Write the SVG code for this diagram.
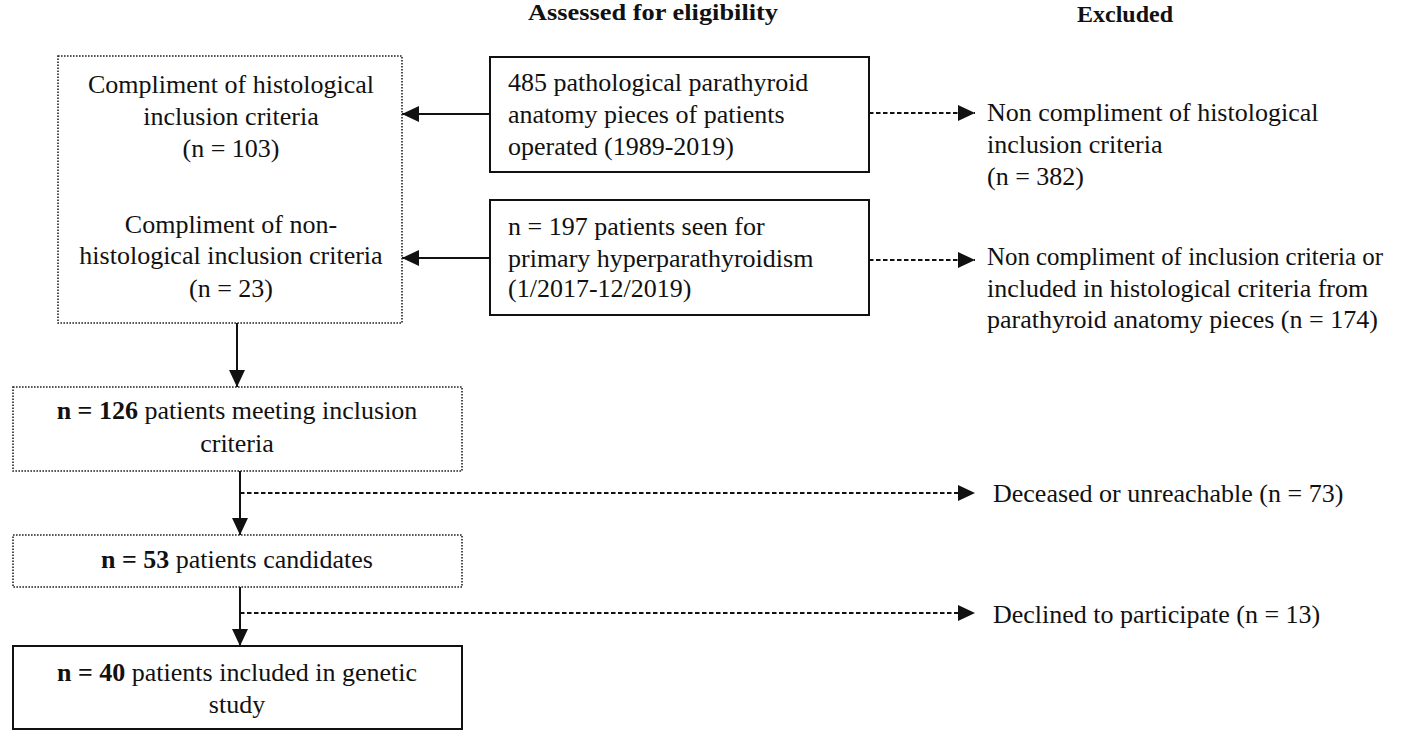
<svg xmlns="http://www.w3.org/2000/svg" width="1417" height="733" viewBox="0 0 1417 733">
<style>
text{font-family:"Liberation Serif","Times New Roman",serif;font-size:26px;fill:#111}
.hd{font-weight:bold;font-size:24px}
.b{font-weight:bold}
.mid{text-anchor:middle}
.solid{fill:#fff;stroke:#111;stroke-width:2}
.dot{fill:#fff;stroke:#222;stroke-width:1.6;stroke-dasharray:1.6 1.4}
.con{fill:none;stroke:#111;stroke-width:2}
.dash{fill:none;stroke:#111;stroke-width:1.8;stroke-dasharray:4.5 2.5}
</style>
<defs>
<marker id="ah" markerUnits="userSpaceOnUse" markerWidth="18" markerHeight="16" refX="17" refY="8" orient="auto">
<path d="M0,0 L17,8 L0,16 z" fill="#111"/>
</marker>
</defs>
<rect width="1417" height="733" fill="#fff"/>
<g id="headers">
<text class="hd mid" x="653" y="20" textLength="250" lengthAdjust="spacingAndGlyphs">Assessed for eligibility</text>
<text class="hd mid" x="1125" y="22">Excluded</text>
</g>
<g id="connectors">
<line class="con" x1="490" y1="114" x2="402" y2="114" marker-end="url(#ah)"/>
<line class="con" x1="490" y1="258" x2="402" y2="258" marker-end="url(#ah)"/>
<line class="dash" x1="869" y1="113" x2="975" y2="113" marker-end="url(#ah)"/>
<line class="dash" x1="869" y1="260" x2="975" y2="260" marker-end="url(#ah)"/>
<line class="con" x1="237" y1="323" x2="237" y2="387" marker-end="url(#ah)"/>
<line class="con" x1="240" y1="471" x2="240" y2="535" marker-end="url(#ah)"/>
<line class="dash" x1="240" y1="493" x2="975" y2="493" marker-end="url(#ah)"/>
<line class="con" x1="240" y1="587" x2="240" y2="646" marker-end="url(#ah)"/>
<line class="dash" x1="240" y1="613" x2="975" y2="613" marker-end="url(#ah)"/>
</g>
<g id="inclusion">
<rect class="dot" x="58" y="56" width="344" height="267"/>
<text class="mid" x="231" y="93">Compliment of histological</text>
<text class="mid" x="231" y="125">inclusion criteria</text>
<text class="mid" x="231" y="157">(n = 103)</text>
<text class="mid" x="231" y="233">Compliment of non-</text>
<text class="mid" x="231" y="264">histological inclusion criteria</text>
<text class="mid" x="231" y="297">(n = 23)</text>
</g>
<g id="pieces">
<rect class="solid" x="490" y="57" width="379" height="115"/>
<text x="508" y="91">485 pathological parathyroid</text>
<text x="508" y="123">anatomy pieces of patients</text>
<text x="508" y="155">operated (1989-2019)</text>
</g>
<g id="seen">
<rect class="solid" x="490" y="200" width="379" height="115"/>
<text x="508" y="235">n = 197 patients seen for</text>
<text x="508" y="267">primary hyperparathyroidism</text>
<text x="508" y="297">(1/2017-12/2019)</text>
</g>
<g id="excl1">
<text x="987" y="121">Non compliment of histological</text>
<text x="987" y="153">inclusion criteria</text>
<text x="987" y="185">(n = 382)</text>
</g>
<g id="excl2">
<text x="987" y="265" textLength="396" lengthAdjust="spacingAndGlyphs">Non compliment of inclusion criteria or</text>
<text x="987" y="297">included in histological criteria from</text>
<text x="987" y="328">parathyroid anatomy pieces (n = 174)</text>
</g>
<g id="meeting">
<rect class="dot" x="13" y="387" width="449" height="84"/>
<text class="mid" x="237" y="419"><tspan class="b">n = 126</tspan> patients meeting inclusion</text>
<text class="mid" x="237" y="452">criteria</text>
</g>
<g id="candidates">
<rect class="dot" x="13" y="535" width="449" height="52"/>
<text class="mid" x="237" y="568"><tspan class="b">n = 53</tspan> patients candidates</text>
</g>
<g id="included">
<rect class="solid" x="13" y="646" width="449" height="83"/>
<text class="mid" x="237" y="681"><tspan class="b">n = 40</tspan> patients included in genetic</text>
<text class="mid" x="237" y="713">study</text>
</g>
<g id="deceased">
<text x="993" y="502">Deceased or unreachable (n = 73)</text>
</g>
<g id="declined">
<text x="993" y="623">Declined to participate (n = 13)</text>
</g>
</svg>
